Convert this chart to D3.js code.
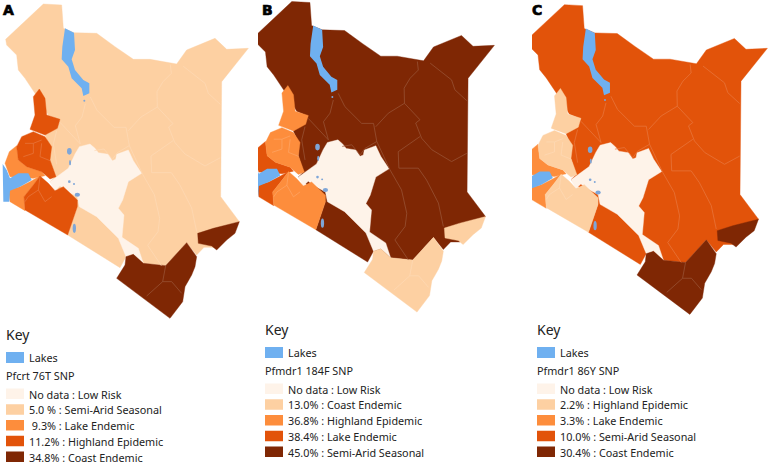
<!DOCTYPE html>
<html><head><meta charset="utf-8">
<style>html,body{margin:0;padding:0;background:#fff}svg{display:block}text{font-family:"Noto Sans",sans-serif;fill:#222;white-space:pre}</style>
<script src="https://cdn.jsdelivr.net/npm/d3@7"></script></head><body><svg id="c" width="770" height="464"></svg>
<script>
// ---- data -------------------------------------------------------------
const panelNames=["A","B","C"];
const markers=["Pfcrt 76T SNP","Pfmdr1 184F SNP","Pfmdr1 86Y SNP"];
const legendA=[["No data : Low Risk","Low Risk"],["5.0 % : Semi-Arid Seasonal","Semi-Arid Seasonal"],[" 9.3% : Lake Endemic","Lake Endemic"],["11.2% : Highland Epidemic","Highland Epidemic"],["34.8% : Coast Endemic","Coast Endemic"]];
const legendB=[["No data : Low Risk","Low Risk"],["13.0% : Coast Endemic","Coast Endemic"],["36.8% : Highland Epidemic","Highland Epidemic"],["38.4% : Lake Endemic","Lake Endemic"],["45.0% : Semi-Arid Seasonal","Semi-Arid Seasonal"]];
const legendC=[["No data : Low Risk","Low Risk"],["2.2% : Highland Epidemic","Highland Epidemic"],["3.3% : Lake Endemic","Lake Endemic"],["10.0% : Semi-Arid Seasonal","Semi-Arid Seasonal"],["30.4% : Coast Endemic","Coast Endemic"]];
const legends=[legendA,legendB,legendC];
const ramp=["#fef3e9","#fdd0a2","#fd8d3c","#e2530a","#7f2704"];
const lakeColor="#6fb0f0", smallLakeColor="#7ea6d8";

// region outlines, in map units
const semiArid=[[17,118],[130,12],[185,15],[190,85],[222,98],[290,100],[345,140],[400,178],[450,178],[530,192],[560,150],[645,115],[680,148],[745,145],[665,245],[662,590],[718,665],[640,742],[612,742],[590,765],[560,728],[497,797],[430,790],[378,770],[360,803],[203,705],[232,620],[150,545],[165,530],[150,480],[150,440],[135,405],[180,360],[145,345],[105,280],[75,235],[55,210],[50,165],[20,135]];
const lowRisk=[[150,545],[205,505],[225,462],[238,440],[270,432],[285,445],[295,458],[325,463],[337,482],[347,478],[350,463],[385,450],[400,482],[425,520],[385,545],[368,600],[355,625],[372,645],[366,712],[415,745],[430,790],[400,763],[378,770],[355,715],[290,650],[238,620],[232,590],[195,570],[180,558],[165,572]];
const lamu=[[718,665],[705,700],[680,720],[650,750],[635,738],[595,730],[593,700],[640,685]];
const coast=[[560,728],[590,770],[585,800],[575,825],[555,860],[548,905],[510,955],[350,835],[375,795],[378,770],[400,763],[430,790],[497,797]];
const highlandPokot=[[118,267],[135,295],[140,345],[180,358],[172,385],[135,405],[90,388],[105,345],[100,290]];
const highlandGishu=[[100,395],[135,410],[155,440],[150,480],[168,530],[150,537],[125,515],[80,500],[55,480],[50,440],[65,410]];
const highlandNarok=[[120,528],[145,550],[165,572],[190,560],[232,600],[232,620],[203,705],[75,630],[72,590],[100,555]];
const lakeNorth=[[50,437],[55,480],[80,500],[125,515],[135,527],[100,535],[30,530],[15,490],[28,455]];
const lakeSouth=[[25,570],[60,560],[90,545],[120,528],[100,555],[72,590],[75,632],[30,605]];
const turkana=[[195,85],[222,98],[225,150],[215,178],[225,210],[250,240],[268,250],[268,280],[250,288],[245,265],[215,235],[205,200],[185,178],[187,140]];
const victoria=[[8,492],[20,510],[30,535],[55,520],[85,520],[95,540],[60,560],[30,572],[28,605],[10,605]];
const smallLakes=[[208,454,7,10],[210,488,3,8],[208,545,4,4],[222,552,3,3],[232,584,8,6],[223,685,5,14],[253,302,3,3]];
const zoneShapes=[["Semi-Arid Seasonal",semiArid],["Low Risk",lowRisk],["Coast Endemic",lamu],["Coast Endemic",coast],["Lake Endemic",lakeNorth],["Lake Endemic",lakeSouth],["Highland Epidemic",highlandPokot],["Highland Epidemic",highlandGishu],["Highland Epidemic",highlandNarok]];

// county borders, in map units, by the zone they lie in
const semiAridBorders=[
[[511,194],[514,220],[489,245],[471,275],[472,321]],
[[472,321],[423,351],[385,392]],
[[472,321],[519,371],[506,381],[524,427],[555,462],[615,498],[661,473]],
[[550,199],[615,250],[625,280],[661,313]],
[[519,422],[453,468],[455,518]],
[[455,518],[514,518],[539,554],[575,624],[590,695]],
[[428,523],[463,584],[479,655],[474,695],[443,736],[484,797]],
[[271,291],[291,331],[342,382],[378,382],[388,437],[352,458],[337,478],[312,447],[283,452]],
[[256,311],[246,351],[226,377],[241,432]],
[[388,437],[428,523]],
[[180,367],[241,432]],
[[170,392],[160,432],[170,493]]];
const coastBorders=[[[497,797],[488,845],[440,888]],[[488,845],[515,845],[545,880]]];
const highlandBorders=[
[[75,430],[100,430],[125,420]],
[[100,430],[100,460],[70,470]],
[[125,430],[120,470],[150,482]],
[[120,530],[115,570],[85,590],[75,605]],
[[115,570],[135,605],[155,590]]];
const borderSets=[["Semi-Arid Seasonal",semiAridBorders],["Coast Endemic",coastBorders],["Highland Epidemic",highlandBorders]];

// placement of each panel: map units -> picture, plus panel text anchors
const panelX=[[0,255],[249,501],[521.5,774]];
const panelY=[[0,255],[-2.4,249.5],[0.7,252]];
const clipLeft=[0,258,532];
const labelX=[3,262,532];
const keyX=[6,265,537], keyY=[340,335,335];
const swatchW=18, swatchH=11;

// ---- drawing ----------------------------------------------------------
const svg=d3.select("#c");
panelNames.forEach((name,i)=>{
  const x=d3.scaleLinear().domain([0,765]).range(panelX[i]);
  const y=d3.scaleLinear().domain([0,765]).range(panelY[i]);
  const line=d3.line().x(d=>x(d[0])).y(d=>y(d[1]));
  const closed=d3.line().x(d=>x(d[0])).y(d=>y(d[1])).curve(d3.curveLinearClosed);
  const col=d3.scaleOrdinal().domain(legends[i].map(d=>d[1])).range(ramp);
  svg.append("clipPath").attr("id","clip"+i).append("rect").attr("x",clipLeft[i]).attr("y",0).attr("width",270).attr("height",330);
  const g=svg.append("g").attr("clip-path",`url(#clip${i})`);
  g.selectAll("path.zone").data(zoneShapes).join("path").attr("class","zone")
    .attr("d",d=>closed(d[1])).attr("fill",d=>col(d[0])).attr("stroke",d=>col(d[0])).attr("stroke-width",.4);
  borderSets.forEach(([zone,lines])=>{
    const tint=d3.interpolateRgb(col(zone),"#fff")(.22);
    g.append("g").selectAll("path").data(lines).join("path")
      .attr("d",line).attr("fill","none").attr("stroke",tint).attr("stroke-width",.7);
  });
  g.selectAll("path.lake").data([turkana,victoria]).join("path").attr("class","lake")
    .attr("d",closed).attr("fill",lakeColor);
  g.selectAll("ellipse").data(smallLakes).join("ellipse")
    .attr("cx",d=>x(d[0])).attr("cy",d=>y(d[1]))
    .attr("rx",d=>x(d[0]+d[2])-x(d[0])).attr("ry",d=>y(d[1]+d[3])-y(d[1])).attr("fill",smallLakeColor);

  svg.append("text").attr("x",labelX[i]).attr("y",15).attr("font-size",14).attr("font-weight",700)
    .style("font-family","'DejaVu Sans'").style("stroke","#000").style("stroke-width",.7).style("fill","#000").text(name);

  // legend
  const k=svg.append("g").attr("font-size",10.8);
  const kx=keyX[i], ky=keyY[i];
  k.append("text").attr("x",kx).attr("y",ky).attr("font-size",14).text("Key");
  k.append("rect").attr("x",kx).attr("y",ky+12).attr("width",swatchW).attr("height",swatchH).attr("fill",lakeColor);
  k.append("text").attr("x",kx+23).attr("y",ky+22).text("Lakes");
  k.append("text").attr("x",kx).attr("y",ky+40).text(markers[i]);
  const rows=k.selectAll("g").data(legends[i]).join("g");
  rows.append("rect").attr("x",kx).attr("y",(d,j)=>ky+48.5+j*15.75).attr("width",swatchW).attr("height",swatchH-.5).attr("fill",d=>col(d[1]));
  rows.append("text").attr("x",kx+23).attr("y",(d,j)=>ky+58.5+j*15.75).text(d=>d[0]);
});
</script></body></html>
